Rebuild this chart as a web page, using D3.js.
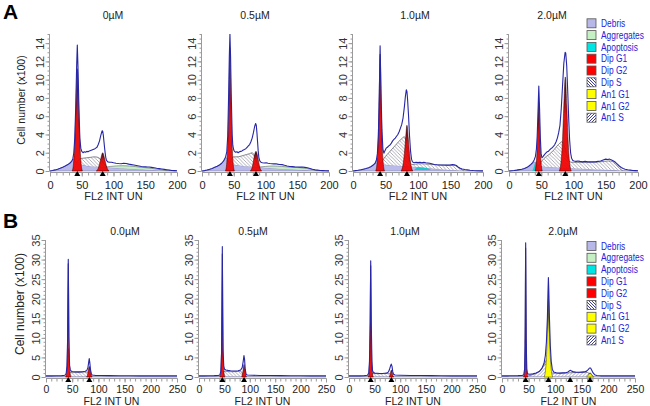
<!DOCTYPE html>
<html><head><meta charset="utf-8">
<script src="https://cdn.jsdelivr.net/npm/d3@7"></script>
<style>body{margin:0;background:#fff}svg{display:block}text{font-family:"Liberation Sans",Arial,sans-serif}</style>
</head><body><svg id="c" width="650" height="406"></svg>
<script>
// ---------------- DATA ----------------
const titlesA = ["0µM", "0.5µM", "1.0µM", "2.0µM"];
const titlesB = ["0.0µM", "0.5µM", "1.0µM", "2.0µM"];
const legendLabels = ["Debris","Aggregates","Apoptosis","Dip G1","Dip G2","Dip S","An1 G1","An1 G2","An1 S"];
const xTicksA = [0,50,100,150,200];
const yTicksA = [0,2,4,6,8,10,12,14];
const xTicksB = [0,50,100,150,200,250];
const yTicksB = [0,5,10,15,20,25,30,35];

// Row A, 0µM
const a1Data = [[0,0],[4,0.05],[8,0.12],[12,0.2],[16,0.3],[20,0.42],[24,0.55],[28,0.7],[31,0.85],[34,1.05],[36,1.35],[37.5,2.0],[39,3.6],[40.5,7],[42,11.6],[43,13.8],[44,11.6],[45.5,7],[47,3.6],[48.5,2.5],[50,2.15],[52,2.0],[54,2.1],[56,2.05],[58,2.15],[60,2.1],[62,2.2],[64,2.25],[66,2.3],[68,2.35],[70,2.4],[72,2.5],[74,2.6],[76,2.9],[78,3.3],[80,3.9],[82,4.4],[83,4.35],[84,3.9],[85,3.2],[86,2.5],[87,1.9],[88,1.4],[89,1.15],[91,1.0],[94,0.95],[97,0.95],[100,0.9],[104,0.85],[108,0.82],[112,0.8],[116,0.85],[120,0.82],[124,0.75],[128,0.7],[132,0.65],[136,0.6],[140,0.55],[144,0.5],[148,0.47],[152,0.45],[156,0.44],[160,0.4],[164,0.36],[168,0.3],[172,0.26],[176,0.22],[180,0.18],[184,0.14],[188,0.1],[192,0.06],[196,0.04],[200,0.02]];
const a1Debris = [[0,0],[4,0.05],[8,0.12],[12,0.2],[16,0.3],[20,0.42],[24,0.55],[28,0.7],[31,0.85],[34,1.05],[36,1.25],[38,1.3],[40,1.1],[44,0.85],[50,0.7],[60,0.55],[70,0.5],[80,0.45],[90,0.4],[100,0.35],[115,0.28],[130,0.22],[150,0.15],[170,0.08],[190,0.03],[200,0]];
const a1S = [[42,0.85,0.85],[45,0.78,1.2],[48,0.74,1.35],[52,0.68,1.4],[58,0.58,1.45],[64,0.53,1.5],[70,0.5,1.55],[75,0.48,1.5],[80,0.46,1.25],[84,0.44,0.9],[88,0.42,0.5],[90,0.4,0.4]];
const a1G1 = [[35,0],[37,0.8],[38.5,2.4],[40,5],[41.5,8.6],[43,11.2],[44.5,8.6],[46,5],[47.5,2.4],[49,0.8],[51,0]];
const a1G2 = [[73,0],[76,0.3],[78.5,0.9],[80.5,1.5],[83,2.0],[85.5,1.5],[87.5,0.9],[90,0.3],[93,0]];
const a1Aggr = [[86,0.41,0.41],[95,0.37,0.5],[105,0.33,0.56],[115,0.29,0.58],[125,0.26,0.55],[135,0.23,0.48],[145,0.18,0.4],[155,0.14,0.33],[165,0.1,0.24],[175,0.07,0.14],[185,0.04,0.05]];
const a1Marks = [43, 83];

// Row A, 0.5µM
const a2Data = [[0,0],[4,0.04],[8,0.1],[12,0.18],[16,0.28],[20,0.4],[24,0.52],[28,0.68],[31,0.85],[34,1.1],[37,1.5],[39,2.1],[40.5,3.8],[42,8.5],[43,12.5],[44,15],[45,12.5],[46,8.5],[47.5,4],[48.5,2.8],[50,2.3],[51,2.15],[53,2.05],[55,2.1],[57,2.0],[59,2.1],[61,2.15],[63,2.2],[65,2.3],[67,2.35],[69,2.45],[71,2.6],[73,2.75],[75,2.9],[77,3.2],[79,3.6],[81,4.2],[83,4.9],[84.5,5.2],[85.5,5.0],[86.5,4.2],[87.5,3.2],[88.5,2.2],[89.5,1.5],[91,1.1],[93,0.95],[95,0.9],[98,0.88],[101,0.9],[104,0.85],[107,0.82],[110,0.8],[113,0.78],[116,0.8],[119,0.75],[122,0.72],[126,0.7],[130,0.62],[134,0.55],[138,0.5],[142,0.48],[146,0.45],[150,0.44],[154,0.42],[158,0.43],[162,0.4],[166,0.36],[170,0.28],[174,0.2],[178,0.14],[182,0.1],[186,0.06],[190,0.04],[195,0.02],[200,0.01]];
const a2Debris = [[0,0],[4,0.04],[8,0.1],[12,0.18],[16,0.28],[20,0.4],[24,0.52],[28,0.68],[31,0.85],[34,1.05],[37,1.35],[39,1.45],[41,1.2],[45,0.85],[50,0.7],[60,0.6],[70,0.52],[80,0.47],[90,0.4],[100,0.35],[115,0.28],[130,0.2],[150,0.14],[170,0.07],[190,0.02],[200,0]];
const a2S = [[44,0.85,0.85],[47,0.75,1.4],[50,0.7,1.55],[55,0.65,1.55],[60,0.6,1.6],[65,0.56,1.7],[70,0.52,1.8],[75,0.5,1.9],[79,0.48,2.0],[83,0.46,1.6],[87,0.44,0.8],[90,0.4,0.4]];
const a2G1 = [[37,0],[39,0.9],[40.5,2.8],[42,6.5],[43,10],[44,13.5],[45,10],[46,6.5],[47.5,2.8],[49,0.9],[51,0]];
const a2G2 = [[76,0],[79,0.4],[81,1.1],[83,1.8],[85,2.15],[87,1.8],[89,1.1],[91,0.4],[94,0]];
const a2Aggr = [[88,0.42,0.42],[100,0.35,0.5],[112,0.3,0.55],[125,0.24,0.5],[140,0.18,0.42],[155,0.13,0.36],[165,0.1,0.28],[175,0.07,0.14],[182,0.05,0.05]];
const a2Marks = [44, 85];

// Row A, 1.0µM
const a3Data = [[0,0],[4,0.04],[8,0.08],[12,0.13],[16,0.2],[20,0.27],[24,0.35],[28,0.5],[31,0.65],[34,0.85],[36,1.2],[37.5,1.9],[39,3.8],[40.5,8.5],[41.7,13.7],[43,9],[44.5,4.5],[46,2.4],[47.5,1.95],[49,2.2],[51,2.5],[53,2.6],[55,2.75],[57,2.85],[59,3.05],[61,3.3],[63,3.45],[65,3.6],[67,3.8],[69,4.0],[71,4.3],[73,4.7],[75,5.1],[77,5.8],[79,7.0],[80.5,8.1],[82,8.9],[83,8.7],[84,7.8],[85.5,6.0],[87,3.8],[88.5,2.2],[90,1.3],[91.5,1.0],[94,0.9],[97,0.95],[100,0.92],[103,0.95],[106,0.9],[109,0.95],[112,0.9],[115,0.88],[118,0.85],[121,0.8],[125,0.72],[129,0.68],[133,0.66],[137,0.65],[141,0.66],[145,0.64],[149,0.66],[153,0.7],[156,0.68],[159,0.6],[162,0.42],[165,0.3],[168,0.22],[172,0.16],[176,0.12],[180,0.08],[185,0.05],[190,0.03],[200,0.01]];
const a3Debris = [[0,0],[4,0.04],[8,0.08],[12,0.13],[16,0.2],[20,0.27],[24,0.35],[28,0.5],[31,0.65],[34,0.85],[36,1.15],[38,1.4],[40,1.1],[44,0.8],[50,0.7],[60,0.62],[70,0.58],[80,0.55],[90,0.5],[100,0.42],[110,0.35],[120,0.28],[135,0.2],[150,0.12],[165,0.06],[180,0.02],[200,0]];
const a3S = [[43,0.8,0.8],[46,0.75,1.2],[50,0.7,1.6],[55,0.67,2.0],[60,0.63,2.4],[65,0.6,2.8],[70,0.58,3.2],[75,0.56,3.55],[79,0.55,3.75],[82,0.54,3.2],[85,0.52,1.8],[88,0.51,0.9],[91,0.5,0.7],[96,0.46,0.75],[105,0.4,0.8],[115,0.33,0.75],[125,0.27,0.7],[135,0.2,0.65],[145,0.15,0.62],[155,0.1,0.62],[160,0.08,0.5],[165,0.06,0.25],[170,0.04,0.04]];
const a3G1 = [[35,0],[37,0.9],[38.5,2.8],[40,7],[41.7,12.8],[43.4,7],[45,2.8],[46.5,0.9],[48.5,0]];
const a3G2 = [[74,0],[77,0.7],[79,1.9],[81,3.6],[83,5.0],[85,3.6],[87,1.9],[89,0.7],[92,0]];
const a3Apop = [[94,0.1,0.1],[98,0.1,0.35],[103,0.1,0.45],[108,0.1,0.45],[113,0.1,0.35],[118,0.1,0.18],[121,0.1,0.1]];
const a3Marks = [41.7, 83];

// Row A, 2.0µM
const a4Data = [[0,0],[4,0.03],[8,0.06],[12,0.1],[16,0.15],[20,0.2],[24,0.28],[28,0.4],[31,0.55],[34,0.72],[37,0.95],[39,1.2],[41,1.6],[42.5,2.4],[43.7,3.8],[45,6.5],[46.2,9.3],[47.4,6.8],[48.6,3.6],[49.8,1.9],[51,1.45],[53,1.6],[55,1.8],[57,1.95],[59,2.1],[61,2.15],[63,2.3],[65,2.45],[67,2.55],[69,2.7],[71,2.9],[73,3.2],[75,3.6],[77,4.2],[79,5.0],[81,6.8],[83,9.3],[85,11.8],[87,13.0],[88,12.9],[89.5,11.5],[91,8.8],[92.5,5.8],[94,3.4],[95.5,2.0],[97,1.4],[99,1.15],[101,1.1],[104,1.05],[107,1.1],[110,1.05],[114,1.0],[118,1.05],[122,1.0],[126,1.0],[130,1.02],[134,1.0],[138,1.05],[142,1.1],[146,1.2],[150,1.3],[153,1.25],[156,1.3],[159,1.2],[162,1.1],[165,0.95],[168,0.75],[171,0.55],[174,0.38],[177,0.27],[180,0.2],[184,0.14],[188,0.1],[192,0.06],[196,0.04],[200,0.02]];
const a4Debris = [[0,0],[4,0.03],[8,0.06],[12,0.1],[16,0.15],[20,0.2],[24,0.28],[28,0.4],[31,0.55],[34,0.72],[37,0.9],[39,1.0],[41,0.9],[44,0.7],[50,0.55],[60,0.45],[70,0.4],[80,0.37],[90,0.33],[100,0.3],[115,0.25],[130,0.2],[145,0.15],[160,0.1],[175,0.05],[190,0.02],[200,0]];
const a4S = [[47,0.6,0.6],[50,0.55,1.0],[54,0.5,1.35],[58,0.47,1.6],[62,0.45,1.8],[66,0.43,2.05],[70,0.4,2.35],[74,0.39,2.7],[78,0.37,3.0],[82,0.36,3.2],[85,0.35,2.9],[88,0.34,2.2],[91,0.33,1.4],[94,0.32,1.0],[100,0.3,0.95],[110,0.27,0.95],[120,0.24,0.95],[130,0.2,0.97],[140,0.17,1.0],[148,0.15,1.05],[155,0.13,1.1],[160,0.11,1.05],[164,0.1,0.85],[168,0.08,0.55],[172,0.06,0.25],[176,0.05,0.05]];
const a4G1 = [[40.5,0],[42,0.7],[43.5,2.2],[45,5],[46.2,7.4],[47.4,5],[48.7,2.2],[50,0.7],[51.5,0]];
const a4G2 = [[78,0],[80.5,0.9],[83,3.4],[85,7.2],[87.3,10.3],[89.6,7.2],[91.6,3.4],[94,0.9],[96.5,0]];
const a4Apop = [[36,0,0],[38.5,0,0.45],[40.5,0,0.9],[42.5,0,1.1],[44,0,0.8],[45.5,0,0.3],[47,0,0]];
const a4Marks = [46.2, 87.3];

// Row B, 0.0µM
const b1Data = [[0,0.3],[10,0.3],[20,0.32],[30,0.35],[36,0.45],[38.5,0.9],[40,2.8],[41.3,10],[42.5,30.1],[43.7,10],[45,3],[46.5,1.8],[48,1.5],[50,1.4],[55,1.35],[60,1.3],[65,1.3],[70,1.35],[75,1.45],[78,1.7],[80,2.4],[81.5,3.8],[82.5,4.7],[83.5,3.8],[85,1.8],[86.5,0.8],[88,0.5],[95,0.4],[105,0.38],[120,0.35],[140,0.33],[160,0.32],[180,0.3],[200,0.3],[220,0.28],[240,0.28],[250,0.28]];
const b1Debris = [[0,0.15],[40,0.2],[100,0.15],[200,0.08],[250,0.05]];
const b1S = [[44,0.2,0.2],[46,0.2,1.1],[55,0.2,1.15],[65,0.2,1.2],[75,0.2,1.3],[80,0.2,1.2],[84,0.2,0.4],[86,0.2,0.2]];
const b1G1 = [[37.5,0],[39.5,1.5],[41,7],[42.5,29],[44,7],[45.5,1.5],[47.5,0]];
const b1G2 = [[77.5,0],[79.5,0.7],[81,1.9],[82.7,2.7],[84.4,1.9],[86,0.7],[88,0]];
const b1Marks = [42.5, 82.7];

// Row B, 0.5µM
const b2Data = [[0,0.3],[10,0.3],[20,0.32],[30,0.35],[38,0.4],[41,0.5],[43,1.5],[44.5,6.5],[45.3,18],[45.9,33.3],[46.6,18],[47.4,6.5],[48.8,2.8],[50.2,2.0],[53,1.8],[57,1.7],[62,1.6],[67,1.55],[72,1.55],[77,1.6],[82,1.8],[85,2.4],[87,4.0],[88.5,5.5],[89.7,4.5],[91,2.0],[92.5,0.8],[95,0.5],[105,0.45],[120,0.4],[140,0.38],[160,0.35],[180,0.33],[200,0.32],[220,0.3],[240,0.3],[250,0.3]];
const b2Debris = [[0,0.15],[40,0.2],[100,0.15],[200,0.08],[250,0.05]];
const b2S = [[47,0.2,0.2],[49,0.2,1.5],[55,0.2,1.4],[65,0.2,1.35],[75,0.2,1.4],[82,0.2,1.5],[87,0.2,0.5],[89,0.2,0.2]];
const b2G1 = [[41,0],[42.8,1.3],[44.4,7],[45.9,31.5],[47.4,7],[49,1.3],[51,0]];
const b2G2 = [[84,0],[86,1.0],[87.5,2.4],[88.7,3.2],[89.9,2.4],[91.4,1.0],[93.4,0]];
const b2Marks = [45.9, 88.7];

// Row B, 1.0µM
const b3Data = [[0,0.3],[10,0.3],[20,0.3],[30,0.35],[36,0.45],[38.5,1.0],[40,4],[41.3,14],[42.4,29.7],[43.5,14],[44.8,4],[46,1.6],[47.5,1.2],[50,1.0],[55,0.95],[60,0.9],[65,0.9],[70,0.95],[74,1.0],[77,1.3],[79,1.9],[81,2.8],[82.5,3.3],[84,2.7],[85.5,1.3],[87,0.7],[90,0.5],[100,0.45],[120,0.4],[140,0.38],[160,0.35],[180,0.33],[200,0.3],[220,0.3],[240,0.3],[250,0.3]];
const b3Debris = [[0,0.15],[40,0.2],[100,0.15],[200,0.08],[250,0.05]];
const b3S = [[44,0.2,0.2],[46,0.2,0.9],[55,0.2,0.85],[65,0.2,0.85],[75,0.2,0.95],[80,0.2,0.8],[84,0.2,0.3],[86,0.2,0.2]];
const b3G1 = [[37.5,0],[39.3,1.4],[40.9,7.5],[42.4,28.5],[43.9,7.5],[45.5,1.4],[47.3,0]];
const b3G2 = [[78.5,0],[80.3,0.6],[81.6,1.4],[82.8,1.8],[84,1.4],[85.3,0.6],[87,0]];
const b3Marks = [42.4, 82.8];

// Row B, 2.0µM
const b4Data = [[0,0.3],[10,0.3],[20,0.32],[30,0.35],[38,0.4],[41,0.6],[42.5,2],[43.5,10],[44.5,34.3],[45.5,10],[46.5,2],[48,0.8],[52,0.7],[58,0.8],[64,1.0],[70,1.4],[75,2.2],[79,3.5],[81.5,5.5],[83.5,9],[85.3,15],[86.5,22],[87.2,25.4],[88,22],[89.2,15],[90.8,8],[92.5,4],[94.5,2.0],[97,1.3],[102,1.1],[108,1.0],[114,1.05],[120,1.1],[124,1.3],[127,1.6],[129,1.7],[131,1.5],[135,1.3],[140,1.2],[145,1.2],[150,1.25],[155,1.3],[159,1.5],[162,1.9],[164.5,2.3],[166.5,2.3],[168.5,1.8],[171,1.1],[174,0.6],[178,0.4],[185,0.3],[200,0.28],[220,0.28],[240,0.28],[250,0.28]];
const b4Debris = [[0,0.15],[40,0.2],[100,0.15],[200,0.08],[250,0.05]];
const b4S = [[48,0.2,0.2],[55,0.2,0.5],[62,0.2,0.8],[68,0.2,1.2],[73,0.2,1.8],[77,0.2,2.6],[81,0.2,3.6],[84,0.2,4.4],[87,0.2,3.0],[90,0.2,1.5],[94,0.2,1.0],[100,0.2,0.95],[110,0.2,0.95],[120,0.2,1.0],[130,0.2,1.1],[140,0.2,1.15],[150,0.2,1.2],[158,0.2,1.25],[163,0.2,1.0],[168,0.2,0.6],[172,0.2,0.2]];
const b4G1 = [[40.5,0],[42.3,1.5],[43.3,8],[44.5,33],[45.7,8],[46.8,1.5],[48.5,0]];
const b4AnG1 = [[79,0],[81.5,1.5],[83.5,5],[85.3,12],[87.2,20],[89.1,12],[90.9,5],[92.9,1.5],[95.5,0]];
const b4AnG2 = [[159,0],[161.5,0.35],[163.5,0.85],[165.5,1.1],[167.5,0.85],[169.5,0.35],[172,0]];
const b4Marks = [44.5, 87.2, 128, 165.5];

// ---------------- LAYOUT ----------------
const rowA = {xMax:200, yMax:15, x0:[50,202,353,509], w:[127,127,130,129], y0:171, h:137,
  yTicks:yTicksA, yMinor:0.5, xTicks:xTicksA, titles:titlesA, titleX:[113,255,415,552], titleY:18.5,
  axisTitleY:100, axisTitleSize:10.5, label:"A", labelY:19, legendY:23.3,
  tickPad:5, tickFont:11, axisLabelY:200, axisLabelFont:11};
const rowB = {xMax:250, yMax:35, x0:[46,199,349,502], w:[131,127,128,133], y0:377, h:137,
  yTicks:yTicksB, yMinor:1, xTicks:xTicksB, titles:titlesB, titleX:[125,253,405,563], titleY:235,
  axisTitleY:304, axisTitleSize:12, label:"B", labelY:228, legendY:246,
  tickPad:3, tickFont:10.5, axisLabelY:404.5, axisLabelFont:10.5};

const panelsA = [
  {data:a1Data, debris:a1Debris, aggr:a1Aggr, s:a1S, peaks:[a1G1,a1G2], marks:a1Marks},
  {data:a2Data, debris:a2Debris, aggr:a2Aggr, s:a2S, peaks:[a2G1,a2G2], marks:a2Marks},
  {data:a3Data, debris:a3Debris, apop:a3Apop, s:a3S, peaks:[a3G1,a3G2], marks:a3Marks},
  {data:a4Data, debris:a4Debris, apop:a4Apop, s:a4S, peaks:[a4G1,a4G2], marks:a4Marks}
];
const panelsB = [
  {data:b1Data, debris:b1Debris, s:b1S, peaks:[b1G1,b1G2], marks:b1Marks},
  {data:b2Data, debris:b2Debris, s:b2S, peaks:[b2G1,b2G2], marks:b2Marks},
  {data:b3Data, debris:b3Debris, s:b3S, peaks:[b3G1,b3G2], marks:b3Marks},
  {data:b4Data, debris:b4Debris, s:b4S, sAn:true, peaks:[b4G1], ypeaks:[b4AnG1,b4AnG2], marks:b4Marks}
];

// ---------------- DRAW ----------------
const svg = d3.select("#c");
const defs = svg.append("defs");
function grad(id, stops){
  const g = defs.append("linearGradient").attr("id",id).attr("x1",0).attr("y1",0).attr("x2",0).attr("y2",1);
  stops.forEach(s=>g.append("stop").attr("offset",s[0]).attr("stop-color",s[1]));
}
grad("redG", [[0,"#1a0008"],[0.2,"#700010"],[0.42,"#dd0000"],[1,"#f40000"]]);
grad("yelG", [[0,"#2a2a40"],[0.25,"#8a8a30"],[0.45,"#eeee10"],[1,"#ffff00"]]);
function hatch(id, back, color, sw, size){
  const p = defs.append("pattern").attr("id",id).attr("patternUnits","userSpaceOnUse")
    .attr("width",size).attr("height",size);
  p.append("rect").attr("width",size).attr("height",size).attr("fill","#fff");
  const s=size;
  const d = back ? `M0,0L${s},${s}M${-s/2},${s/2}L${s/2},${s*1.5}M${s/2},${-s/2}L${s*1.5},${s/2}`
                 : `M0,${s}L${s},0M${-s/2},${s/2}L${s/2},${-s/2}M${s/2},${s*1.5}L${s*1.5},${s/2}`;
  p.append("path").attr("d",d).attr("stroke",color).attr("stroke-width",sw);
}
hatch("hatchPlot", true, "#8c8c9c", 0.7, 3.5);
hatch("hatchPlotF", false, "#7c7c9c", 0.7, 3.5);
hatch("hatchLegS", true, "#2a2a90", 0.9, 3);
hatch("hatchLegA", false, "#2a2a90", 0.9, 3);

function drawRow(row, panels, rowIdx){
  panels.forEach((p,i)=>{
    const x = d3.scaleLinear().domain([0,row.xMax]).range([row.x0[i], row.x0[i]+row.w[i]]);
    const y = d3.scaleLinear().domain([0,row.yMax]).range([row.y0, row.y0-row.h]);
    const cid = `clip${rowIdx}_${i}`;
    defs.append("clipPath").attr("id",cid).append("rect")
      .attr("x",row.x0[i]).attr("y",row.y0-row.h).attr("width",row.w[i]).attr("height",row.h+1);
    const g = svg.append("g").attr("clip-path",`url(#${cid})`);
    const area0 = d3.area().x(d=>x(d[0])).y0(y(0)).y1(d=>y(d[1])).curve(d3.curveMonotoneX);
    const band = d3.area().x(d=>x(d[0])).y0(d=>y(d[1])).y1(d=>y(d[2])).curve(d3.curveMonotoneX);
    const bandTop = d3.line().x(d=>x(d[0])).y(d=>y(d[2])).curve(d3.curveMonotoneX);
    g.append("path").attr("d",area0(p.debris)).attr("fill","#b9b9ea").attr("stroke","#6a6a90").attr("stroke-width",0.4);
    if(p.aggr){
      g.append("path").attr("d",band(p.aggr)).attr("fill","#c4eec4");
      g.append("path").attr("d",bandTop(p.aggr)).attr("fill","none").attr("stroke","#445").attr("stroke-width",0.5);
    }
    if(p.apop){
      g.append("path").attr("d",band(p.apop)).attr("fill","#19c8cc");
    }
    g.append("path").attr("d",band(p.s)).attr("fill", p.sAn ? "url(#hatchPlotF)" : "url(#hatchPlot)");
    g.append("path").attr("d",bandTop(p.s)).attr("fill","none").attr("stroke","#3a3a48").attr("stroke-width",0.6);
    p.peaks.forEach(pk=>{
      g.append("path").attr("d",area0(pk)).attr("fill","url(#redG)").attr("fill-opacity",0.93)
        .attr("stroke","#300").attr("stroke-width",0.5);
    });
    (p.ypeaks||[]).forEach(pk=>{
      g.append("path").attr("d",area0(pk)).attr("fill","url(#yelG)")
        .attr("stroke","#333").attr("stroke-width",0.5);
    });
    const line = d3.line().x(d=>x(d[0])).y(d=>y(d[1]));
    g.append("path").attr("d",line(p.data)).attr("fill","none").attr("stroke","#2626a6")
      .attr("stroke-width",1.1).attr("stroke-linejoin","round");

    // axes
    const gy = svg.append("g").attr("transform",`translate(${row.x0[i]-0.5},0)`)
      .call(d3.axisLeft(y).tickValues(d3.range(0,row.yMax+0.001,row.yMinor)).tickSize(2).tickFormat(""));
    const gyM = svg.append("g").attr("transform",`translate(${row.x0[i]-0.5},0)`)
      .call(d3.axisLeft(y).tickValues(row.yTicks).tickSize(4).tickPadding(7));
    [gy,gyM].forEach(a=>{ a.selectAll("path,line").attr("stroke","#9a9a9a"); a.select(".domain").attr("d",`M0,${row.y0}V${row.y0-row.h}`); });
    gyM.selectAll("text").attr("fill","#333").style("font-size","11px")
      .attr("text-anchor","middle").attr("dy",null).attr("x",null)
      .attr("transform","translate(-10,0)rotate(-90)")
      .attr("dominant-baseline","central");
    const gx = svg.append("g").attr("transform",`translate(0,${row.y0+1.5})`)
      .call(d3.axisBottom(x).tickValues(d3.range(0,row.xMax+0.001,10)).tickSize(3).tickFormat(""));
    const gxM = svg.append("g").attr("transform",`translate(0,${row.y0+1.5})`)
      .call(d3.axisBottom(x).tickValues(row.xTicks).tickSize(4).tickPadding(row.tickPad));
    [gx,gxM].forEach(a=>{ a.selectAll("path,line").attr("stroke","#9a9a9a"); a.select(".domain").attr("d",`M${row.x0[i]},0H${row.x0[i]+row.w[i]}`);});
    gxM.selectAll("text").attr("fill","#222").style("font-size",row.tickFont+"px");

    // markers
    svg.append("g").selectAll("path").data(p.marks).join("path")
      .attr("d",d=>`M${x(d)-3},${row.y0+5}L${x(d)+3},${row.y0+5}L${x(d)},${row.y0}Z`).attr("fill","#000");

    // titles
    svg.append("text").attr("x",row.titleX[i]).attr("y",row.titleY).attr("text-anchor","middle")
      .style("font-size","10.5px").attr("fill","#222").text(row.titles[i]);
    svg.append("text").attr("x",row.x0[i]+row.w[i]/2).attr("y",row.axisLabelY).attr("text-anchor","middle")
      .style("font-size",row.axisLabelFont+"px").attr("fill","#222").text("FL2 INT UN");
  });
  // y axis title
  svg.append("text").attr("transform",`translate(${rowIdx===0?24.5:24},${row.axisTitleY})rotate(-90)`)
    .attr("text-anchor","middle").style("font-size",row.axisTitleSize+"px").attr("fill","#222").text("Cell number (x100)");
  // panel label
  svg.append("text").attr("x",3).attr("y",row.labelY).style("font-size","21px").style("font-weight","bold")
    .attr("fill","#000").text(row.label);
  // legend
  const fills = ["#b7b7e8","#c4f0c4","#00e4e4","#ff0000","#ff0000","url(#hatchLegS)","#ffff00","#ffff00","url(#hatchLegA)"];
  const lg = svg.append("g");
  legendLabels.forEach((t,k)=>{
    const cy = row.legendY + k*11.8;
    lg.append("rect").attr("x",587).attr("y",cy-4.5).attr("width",9).attr("height",9)
      .attr("fill",fills[k]).attr("stroke","#555").attr("stroke-width",0.8);
    lg.append("text").attr("transform",`translate(601,${cy+3.6})scale(0.8,1)`).style("font-size","10.5px")
      .attr("fill","#2323d8").text(t);
  });
}
drawRow(rowA, panelsA, 0);
drawRow(rowB, panelsB, 1);
</script></body></html>
